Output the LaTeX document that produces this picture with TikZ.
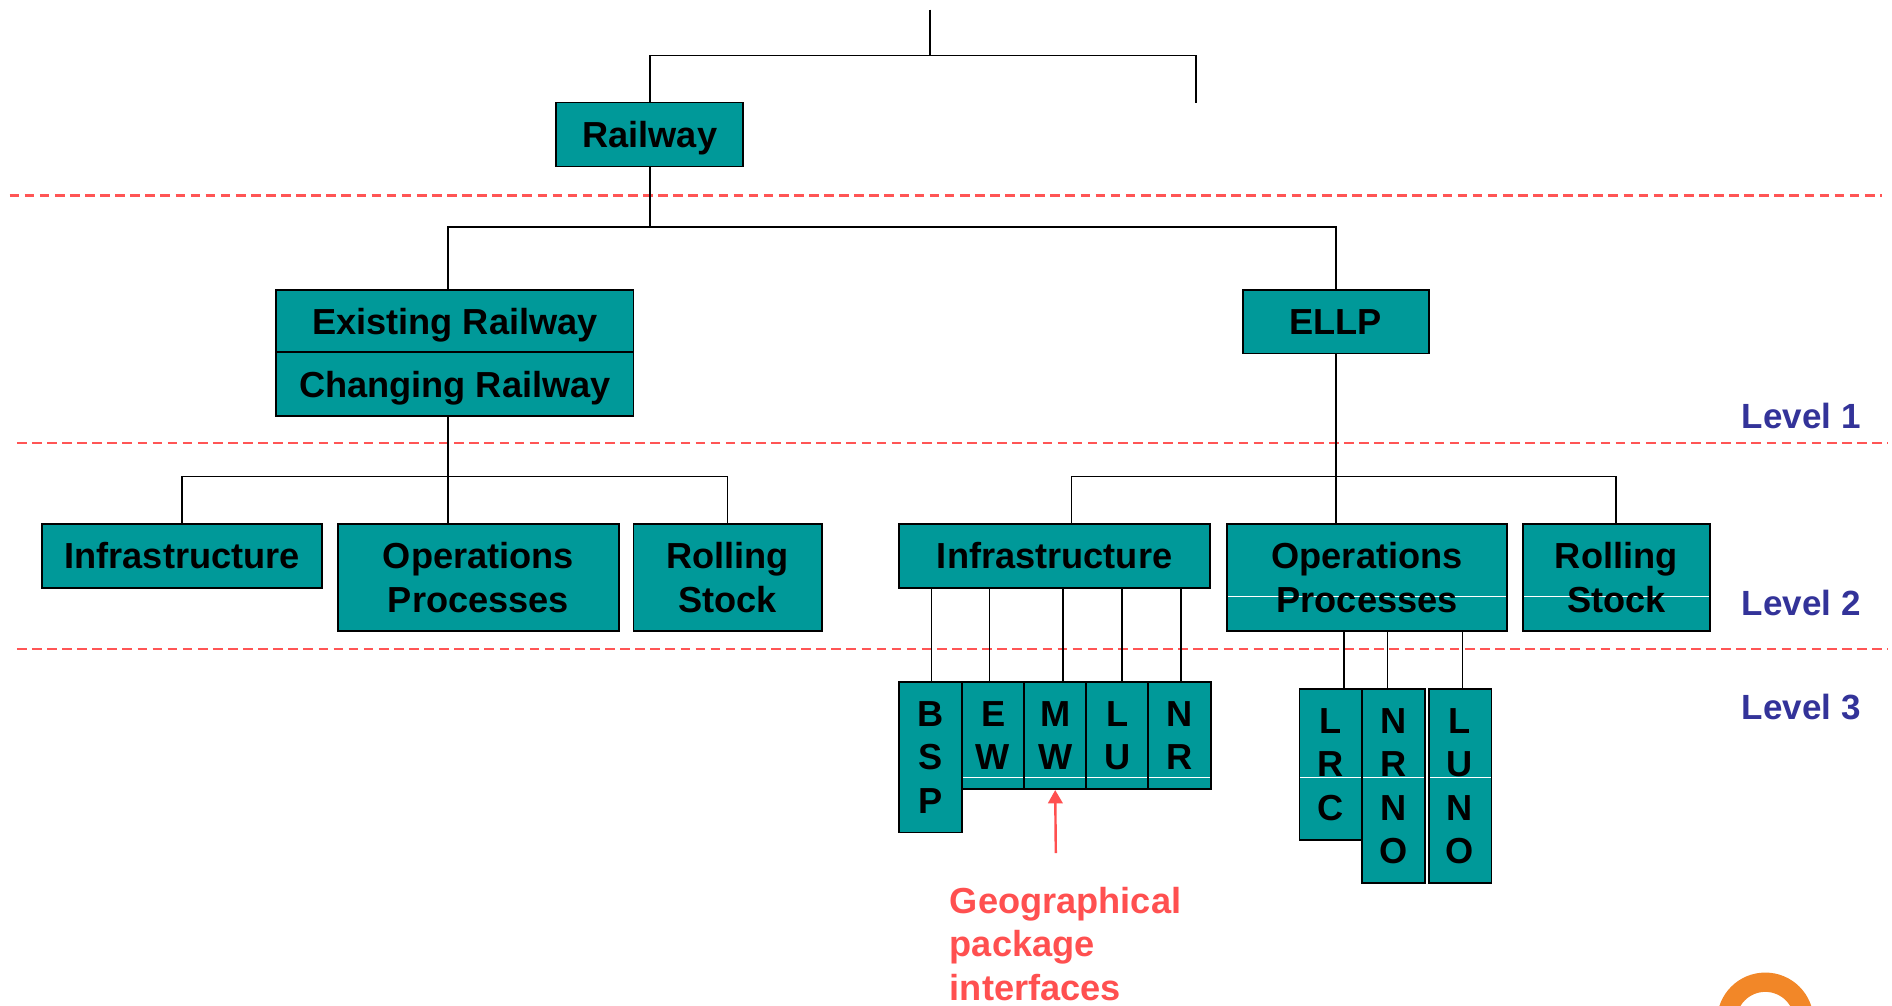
\documentclass[tikz,border=0pt]{standalone}
\usepackage{fontspec}
\setmainfont{Liberation Sans}
\usepackage{xcolor}
\usetikzlibrary{arrows.meta,positioning}

\definecolor{boxteal}{RGB}{0,153,153}
\definecolor{dashred}{RGB}{255,85,85}
\definecolor{levelblue}{RGB}{51,51,153}
\definecolor{geored}{RGB}{255,80,80}
\definecolor{logoorange}{RGB}{242,135,40}

\begin{document}
\begin{tikzpicture}[x=1pt,y=-1pt,
  box/.style={draw=black,line width=1.5pt,fill=boxteal,inner sep=0pt,align=center,
    font=\fontsize{30}{36}\selectfont\bfseries},
  sheen/.style={path picture={\draw[white,line width=0.8pt]
    ([yshift=-#1pt]path picture bounding box.north west) --
    ([yshift=-#1pt]path picture bounding box.north east);}},
  link/.style={line width=1.4pt},
  levelline/.style={dashred,line width=2pt,dash pattern=on 8pt off 4.5pt},
  levellabel/.style={anchor=west,text=levelblue,font=\fontsize{29}{34}\selectfont\bfseries},
  geotext/.style={text=geored,align=left,inner sep=0pt,font=\fontsize{30}{36}\selectfont\bfseries},
  geoarrow/.style={geored,line width=2pt,-{Triangle[length=11pt,width=12pt]}}]
\useasboundingbox (0,0) rectangle (1568,833);

% level separators
\draw[levelline] (8,162) -- (1560,162);
\draw[levelline] (14,367) -- (1565,367);
\draw[levelline] (14,538) -- (1565,538);
\node[levellabel] (lev1) at (1440,345) {Level 1};
\node[levellabel] (lev2) at (1440,500) {Level 2};
\node[levellabel] (lev3) at (1440,586) {Level 3};

% top of tree
\node[box,text depth=0pt,minimum width=155pt,minimum height=53pt] (railway) at (538.5,111.5) {Railway};
\node[box,text depth=0pt,minimum width=296pt,minimum height=52pt] (existing) at (377,266) {Existing Railway};
\node[box,text depth=0pt,minimum width=296pt,minimum height=53pt] (changing) at (377,318.5) {Changing Railway};
\node[box,minimum width=154pt,minimum height=53pt] (ellp) at (1107,266.5) {ELLP};

% level 2
\node[box,minimum width=232pt,minimum height=53pt] (infraL) at (151,460.5) {Infrastructure};
\node[box,minimum width=233pt,minimum height=89pt] (opsL) at (396.5,478.5) {Operations\\Processes};
\node[box,minimum width=156pt,minimum height=89pt] (rollL) at (603,478.5) {Rolling\\Stock};
\node[box,minimum width=258pt,minimum height=53pt] (infraR) at (874,460.5) {Infrastructure};
\node[box,sheen=60,minimum width=232pt,minimum height=89pt] (opsR) at (1133,478.5) {Operations\\Processes};
\node[box,sheen=60,minimum width=155pt,minimum height=89pt] (rollR) at (1339.5,478.5) {Rolling\\Stock};

% level 3
\node[box,minimum width=52pt,minimum height=125pt] (bsp) at (771,627.5) {B\\S\\P};
\foreach \n/\x/\a/\b in {ew/823/E/W, mw/874.5/M/W, lu/926/L/U, nr/977.5/N/R}
  \node[box,sheen=79,minimum width=52pt,minimum height=89pt] (\n) at (\x,609.5) {\a\\\b};
\node[box,sheen=73,minimum width=52pt,minimum height=125pt] (lrc) at (1103,633.5) {L\\R\\C};
\node[box,sheen=73,minimum width=52pt,minimum height=161pt] (nrno) at (1155,651.5) {N\\R\\N\\O};
\node[box,sheen=73,minimum width=52pt,minimum height=161pt] (luno) at (1210,651.5) {L\\U\\N\\O};

% connectors
\coordinate (top) at (771,8);
\coordinate (bus0) at (771,46);
\coordinate (stub) at (991,85);
\draw[link] (top) -- (bus0);
\draw[link] (railway.north) |- (stub |- bus0) -- (stub);
\coordinate (bus1) at (539,188);
\draw[link] (railway.south) -- (railway.south |- bus1);
\draw[link] ([xshift=-6pt]existing.north) |- (ellp.north |- bus1) -- (ellp.north);
\coordinate (bus2) at (371,395);
\draw[link] (changing.south -| bus2) -- ([xshift=-25.5pt]opsL.north);
\draw[link] (infraL.north) |- (rollL.north |- bus2) -- (rollL.north);
\draw[link] (ellp.south) -- ([xshift=-26pt]opsR.north);
\draw[link] ([xshift=14pt]infraR.north) |- (rollR.north |- bus2) -- (rollR.north);
\foreach \n/\s in {bsp/1, ew/-3, mw/6.5, lu/4, nr/1.5} {
  \coordinate (tip) at ([xshift=\s pt]\n.north);
  \draw[link] (tip |- infraR.south) -- (tip);
}
\foreach \n/\s in {lrc/11, nrno/-5, luno/2} {
  \coordinate (tip) at ([xshift=\s pt]\n.north);
  \draw[link] (tip |- opsR.south) -- (tip);
}

% interfaces note
\node[geotext,anchor=north west] (geo) at (787,735) {Geographical\\package\\interfaces};
\coordinate (geotail) at (875,707);
\draw[geoarrow] (geotail) -- (mw.south);

% logo corner
\begin{scope}
\clip (0,0) rectangle (1568,833);
\draw[logoorange,line width=16pt] (1463,846) circle[radius=32];
\end{scope}
\end{tikzpicture}
\end{document}
